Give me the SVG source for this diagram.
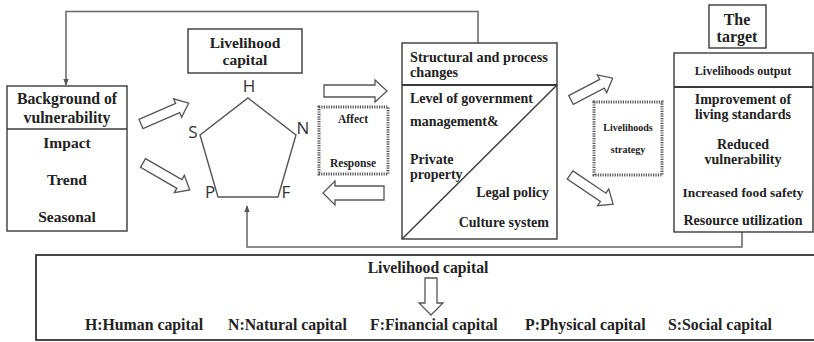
<svg xmlns="http://www.w3.org/2000/svg" width="814" height="342" viewBox="0 0 814 342">
<defs>
<style>
.box{fill:#fff;stroke:#3a3a3a;stroke-width:1.4}
.dot{fill:#fff;stroke:#555;stroke-width:3;stroke-dasharray:1.2 1.2}
.t{font-family:"Liberation Serif","Times New Roman",serif;font-weight:bold;fill:#222;text-anchor:middle}
.l{text-anchor:start}
.r{text-anchor:end}
.s{font-family:"Open Sans","Liberation Sans",sans-serif;fill:#333;font-size:17px;text-anchor:middle}
.conn{fill:none;stroke:#666;stroke-width:1.5}
.ha{fill:#fff;stroke:#555;stroke-width:1.3;stroke-linejoin:miter}
</style>
<marker id="ah" viewBox="0 0 10 10" refX="9" refY="5" markerWidth="7" markerHeight="7" orient="auto" markerUnits="userSpaceOnUse">
<path d="M0,1 L10,5 L0,9 Z" fill="#555"/>
</marker>
</defs>
<rect width="814" height="342" fill="#fff"/>

<g id="connectors">
<path class="conn" d="M478,43 V11.5 H66 V85" marker-end="url(#ah)"/>
<path class="conn" d="M742,232 V247 H247 V206" marker-end="url(#ah)"/>
<path class="ha" d="M0,-5 H40 V-10 L52,0 L40,10 V5 H0 Z" transform="translate(141,124) rotate(-23.6)"/>
<path class="ha" d="M0,-5 H42 V-10 L54,0 L42,10 V5 H0 Z" transform="translate(143,163) rotate(30)"/>
<path class="ha" d="M0,-6 H51 V-11 L63,0 L51,11 V6 H0 Z" transform="translate(324,91)"/>
<path class="ha" d="M0,-7 H49 V-12 L61,0 L49,12 V7 H0 Z" transform="translate(384,193) rotate(180)"/>
<path class="ha" d="M0,-5 H35 V-10 L47,0 L35,10 V5 H0 Z" transform="translate(571,100) rotate(-27.6)"/>
<path class="ha" d="M0,-5 H40 V-10 L52,0 L40,10 V5 H0 Z" transform="translate(570,175) rotate(34)"/>
</g>

<g id="background">
<rect class="box" x="7" y="86" width="120" height="145"/>
<line class="box" x1="7" y1="129" x2="127" y2="129"/>
<text class="t" x="67" y="104" font-size="15.8">Background of</text>
<text class="t" x="67" y="123" font-size="15.8">vulnerability</text>
<text class="t" x="67" y="148" font-size="15.5">Impact</text>
<text class="t" x="67" y="185" font-size="15.5">Trend</text>
<text class="t" x="67" y="222" font-size="15.5">Seasonal</text>
</g>

<g id="livelihood-capital">
<rect class="box" x="188" y="29" width="114" height="44"/>
<text class="t" x="245" y="48" font-size="15.5">Livelihood</text>
<text class="t" x="245" y="65" font-size="15.5">capital</text>
<polygon points="248,98 296,135 278,197 218,197 200,135" fill="none" stroke="#555" stroke-width="1.4"/>
<text class="s" x="249" y="92">H</text>
<text class="s" x="303" y="134">N</text>
<text class="s" x="286" y="198">F</text>
<text class="s" x="210" y="198">P</text>
<text class="s" x="193" y="138">S</text>
</g>

<g id="affect-response">
<rect class="dot" x="319" y="107" width="69" height="67"/>
<text class="t" x="353" y="123" font-size="11.5">Affect</text>
<text class="t" x="353" y="167" font-size="11.5">Response</text>
</g>

<g id="structural">
<rect class="box" x="402" y="43" width="155" height="196"/>
<line x1="402" y1="85" x2="557" y2="85" stroke="#3a3a3a" stroke-width="2"/>
<line x1="402" y1="239" x2="557" y2="85" stroke="#3a3a3a" stroke-width="1.4"/>
<text class="t l" x="410" y="62" font-size="14.2">Structural and process</text>
<text class="t l" x="410" y="77" font-size="14.2">changes</text>
<text class="t l" x="410" y="103" font-size="14">Level of government</text>
<text class="t l" x="410" y="126" font-size="14">management&amp;</text>
<text class="t l" x="410" y="164" font-size="14">Private</text>
<text class="t l" x="410" y="179" font-size="14">property</text>
<text class="t r" x="549" y="197" font-size="14">Legal policy</text>
<text class="t r" x="549" y="227" font-size="14">Culture system</text>
</g>

<g id="strategy">
<rect class="dot" x="594" y="102" width="68" height="73"/>
<text class="t" x="628" y="131" font-size="10">Livelihoods</text>
<text class="t" x="628" y="153" font-size="10">strategy</text>
</g>

<g id="target">
<rect class="box" x="709" y="5" width="57" height="43"/>
<text class="t" x="737" y="25" font-size="16">The</text>
<text class="t" x="737" y="42" font-size="16">target</text>
</g>

<g id="output">
<rect class="box" x="674" y="53" width="139" height="179"/>
<line x1="674" y1="87" x2="813" y2="87" stroke="#3a3a3a" stroke-width="2"/>
<text class="t" x="743" y="75" font-size="12">Livelihoods output</text>
<text class="t" x="743" y="104" font-size="14">Improvement of</text>
<text class="t" x="743" y="119" font-size="14">living standards</text>
<text class="t" x="743" y="149" font-size="14">Reduced</text>
<text class="t" x="743" y="164" font-size="14">vulnerability</text>
<text class="t" x="743" y="197" font-size="13.4">Increased food safety</text>
<text class="t" x="743" y="225" font-size="14">Resource utilization</text>
</g>

<g id="legend">
<rect x="36" y="255" width="790" height="85" fill="#fff" stroke="#333" stroke-width="1.8"/>
<text class="t" x="428" y="273" font-size="15.7">Livelihood capital</text>
<path class="ha" d="M425,278 H437 V303 H443 L431,315 L419,303 H425 Z"/>
<text class="t l" x="85" y="330" font-size="15.8">H:Human capital</text>
<text class="t l" x="228" y="330" font-size="15.8">N:Natural capital</text>
<text class="t l" x="370" y="330" font-size="15.8">F:Financial capital</text>
<text class="t l" x="525" y="330" font-size="15.8">P:Physical capital</text>
<text class="t l" x="668" y="330" font-size="15.8">S:Social capital</text>
</g>
</svg>
